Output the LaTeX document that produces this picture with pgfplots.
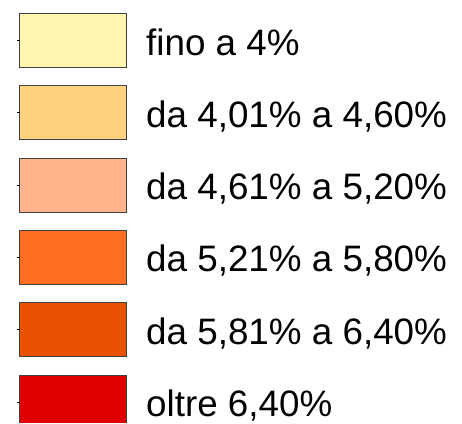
\documentclass[border=0pt]{standalone}
\usepackage{pgfplots}
\pgfplotsset{compat=1.18}
\usepackage{fontspec}
\setmainfont{Liberation Sans}
\definecolor{c1}{RGB}{255,245,175}
\definecolor{c2}{RGB}{255,210,128}
\definecolor{c3}{RGB}{255,180,140}
\definecolor{c4}{RGB}{255,110,35}
\definecolor{c5}{RGB}{232,82,0}
\definecolor{c6}{RGB}{225,0,0}
\definecolor{edge}{RGB}{64,64,64}
\begin{document}
\begin{tikzpicture}
\begin{axis}[
  width=462pt, height=423pt, scale only axis,
  xmin=0, xmax=462, ymin=0, ymax=423,
  y dir=reverse, hide axis, clip=true,
]
\addplot[fill=c1, draw=edge, line width=0.9pt] coordinates {(19.5,13.5) (126.5,13.5) (126.5,67.5) (19.5,67.5)} -- cycle;
\addplot[fill=c2, draw=edge, line width=0.9pt] coordinates {(19.5,85.8) (126.5,85.8) (126.5,139.8) (19.5,139.8)} -- cycle;
\addplot[fill=c3, draw=edge, line width=0.9pt] coordinates {(19.5,158.1) (126.5,158.1) (126.5,212.1) (19.5,212.1)} -- cycle;
\addplot[fill=c4, draw=edge, line width=0.9pt] coordinates {(19.5,230.4) (126.5,230.4) (126.5,284.4) (19.5,284.4)} -- cycle;
\addplot[fill=c5, draw=edge, line width=0.9pt] coordinates {(19.5,302.7) (126.5,302.7) (126.5,356.7) (19.5,356.7)} -- cycle;
\addplot[fill=c6, draw=edge, line width=0.9pt] coordinates {(19.5,423) (19.5,375.5) (126.5,375.5) (126.5,423)};
\draw[black, line width=0.8pt] (axis cs:17,40.5) -- (axis cs:19.5,40.5);
\draw[black, line width=0.8pt] (axis cs:17,112.8) -- (axis cs:19.5,112.8);
\draw[black, line width=0.8pt] (axis cs:17,185.1) -- (axis cs:19.5,185.1);
\draw[black, line width=0.8pt] (axis cs:17,257.4) -- (axis cs:19.5,257.4);
\draw[black, line width=0.8pt] (axis cs:17,329.7) -- (axis cs:19.5,329.7);
\draw[black, line width=0.8pt] (axis cs:17,402.5) -- (axis cs:19.5,402.5);
\path (axis cs:0,0) rectangle (axis cs:462,423);
\node[anchor=base west, inner sep=0pt, font=\fontsize{36.8}{40}\selectfont] at (axis cs:146,55) {fino a 4\%};
\node[anchor=base west, inner sep=0pt, font=\fontsize{36.8}{40}\selectfont] at (axis cs:146,127.3) {da 4,01\% a 4,60\%};
\node[anchor=base west, inner sep=0pt, font=\fontsize{36.8}{40}\selectfont] at (axis cs:146,199.6) {da 4,61\% a 5,20\%};
\node[anchor=base west, inner sep=0pt, font=\fontsize{36.8}{40}\selectfont] at (axis cs:146,271.9) {da 5,21\% a 5,80\%};
\node[anchor=base west, inner sep=0pt, font=\fontsize{36.8}{40}\selectfont] at (axis cs:146,344.2) {da 5,81\% a 6,40\%};
\node[anchor=base west, inner sep=0pt, font=\fontsize{36.8}{40}\selectfont] at (axis cs:146,416.5) {oltre 6,40\%};
\end{axis}
\end{tikzpicture}
\end{document}
